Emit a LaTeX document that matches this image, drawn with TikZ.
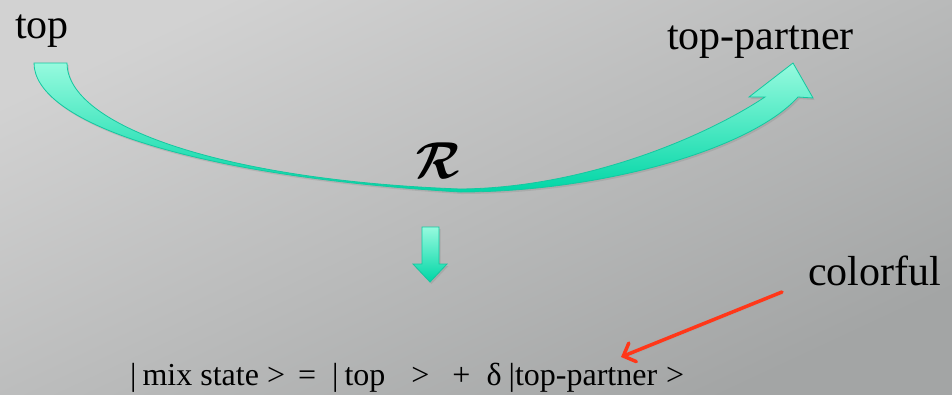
\documentclass[tikz,border=0pt]{standalone}
\usepackage{amsmath,amssymb,bm}
\usepackage{fontspec}
\newfontfamily\tms{Liberation Serif}
\setmainfont{Liberation Serif}
\usetikzlibrary{arrows.meta,shadows}
\definecolor{bgtop}{RGB}{210,210,210}
\definecolor{bgbot}{RGB}{163,165,165}
\definecolor{mintlight}{RGB}{150,250,222}
\definecolor{mintdark}{RGB}{0,214,166}
\definecolor{mintedge}{RGB}{20,200,160}
\definecolor{redarrow}{RGB}{255,55,25}
\begin{document}
\begin{tikzpicture}[x=1pt,y=-1pt,
  lbl/.style={anchor=base west,inner sep=0pt,font=\tms\fontsize{42}{50}\selectfont},
  eqn/.style={anchor=base west,inner sep=0pt,font=\tms\fontsize{32}{38}\selectfont},
  mintarrow/.style={draw=mintedge,line width=0.8pt,line join=miter,
    top color=mintlight,bottom color=mintdark,
    drop shadow={shadow xshift=1.5pt,shadow yshift=-2pt,opacity=0.25}},
  pointer/.style={draw=redarrow,line width=3.5pt,line cap=round,line join=round,
    -{Straight Barb[length=10pt,width=20pt,line cap=round]},
    drop shadow={shadow xshift=1.5pt,shadow yshift=-2pt,opacity=0.25}}]
% background
\useasboundingbox (0,0) rectangle (952,394);
\shade[top color=bgtop,bottom color=bgbot,shading angle=25] (0,0) rectangle (952,394);
% labels
\node[lbl] (top) at (15,38) {top};
\node[lbl] (partner) at (667,49) {top-partner};
\node[lbl] (colorful) at (808,285) {colorful};
\node[inner sep=0pt,xscale=4.8,yscale=5.2,xslant=0.25] (R) at (438,161) {$\bm{\mathcal{R}}$};
% curved arrow from top to top-partner
\coordinate (bl) at (34,63);
\coordinate (br) at (67,63);
\coordinate (tip) at (793,63);
\path[mintarrow]
  (bl) .. controls (34,120) and (180,175) .. (460,192)
       .. controls (600,192) and (750,150) .. (798,97)
  -- (813,98) -- (tip) -- (749,97) -- (765,97)
       .. controls (700,140) and (580,188) .. (460,189)
       .. controls (220,180) and (67,125) .. (br) -- cycle;
% down arrow
\path[mintarrow] (422,227) -- (439,227) -- (439,264) -- (447,264) -- (430,282)
  -- (413,264) -- (422,264) -- cycle;
% equation
\node[eqn] (eq) at (130,385) {|\hspace{6pt}mix state >\hspace{13pt}=\hspace{16pt}|\hspace{6pt}top\hspace{26pt}>\hspace{23pt}+\hspace{16pt}δ\hspace{7pt}|top-partner\hspace{9pt}>};
% red pointer
\coordinate (cstart) at (782,292);
\coordinate (ctip) at (621,357);
\draw[pointer] (cstart) -- (ctip);
\end{tikzpicture}
\end{document}
